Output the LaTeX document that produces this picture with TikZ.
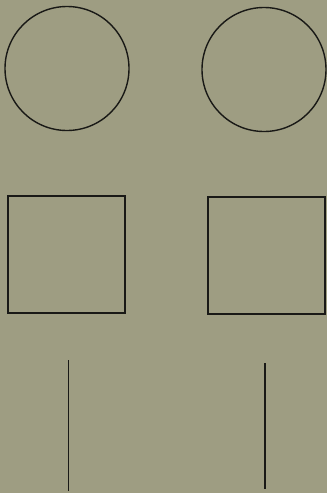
\documentclass[tikz,border=0pt]{standalone}
\usepackage{xcolor}
\usepackage{tikz}
\usetikzlibrary{positioning}

\definecolor{paper}{RGB}{158,157,130}
\definecolor{ink}{RGB}{25,25,22}

\begin{document}
\begin{tikzpicture}[
    x=1pt, y=-1pt,
    ring/.style={circle, draw=ink, line width=1.4pt, minimum size=124pt, inner sep=0pt},
    sq/.style={rectangle, draw=ink, line width=1.3pt, minimum width=117pt, minimum height=117pt, inner sep=0pt},
    stroke/.style={draw=ink, line width=1.9pt}
]
\fill[paper] (0,0) rectangle (327,493);
\useasboundingbox (0,0) rectangle (327,493);

\node[ring] (ringL) at (67,68.5) {};
\node[ring] (ringR) at (264,69.5) {};

\node[sq] (sqL) at (66.5,254.5) {};
\node[sq] (sqR) at (266.5,255.5) {};

\coordinate (lineLtop) at (68.5,360);
\coordinate (lineLbot) at (68.5,491);
\coordinate (lineRtop) at (265.2,363);
\coordinate (lineRbot) at (265.2,489);

\draw[stroke] (lineLtop) -- (lineLbot);
\draw[stroke] (lineRtop) -- (lineRbot);
\end{tikzpicture}
\end{document}
